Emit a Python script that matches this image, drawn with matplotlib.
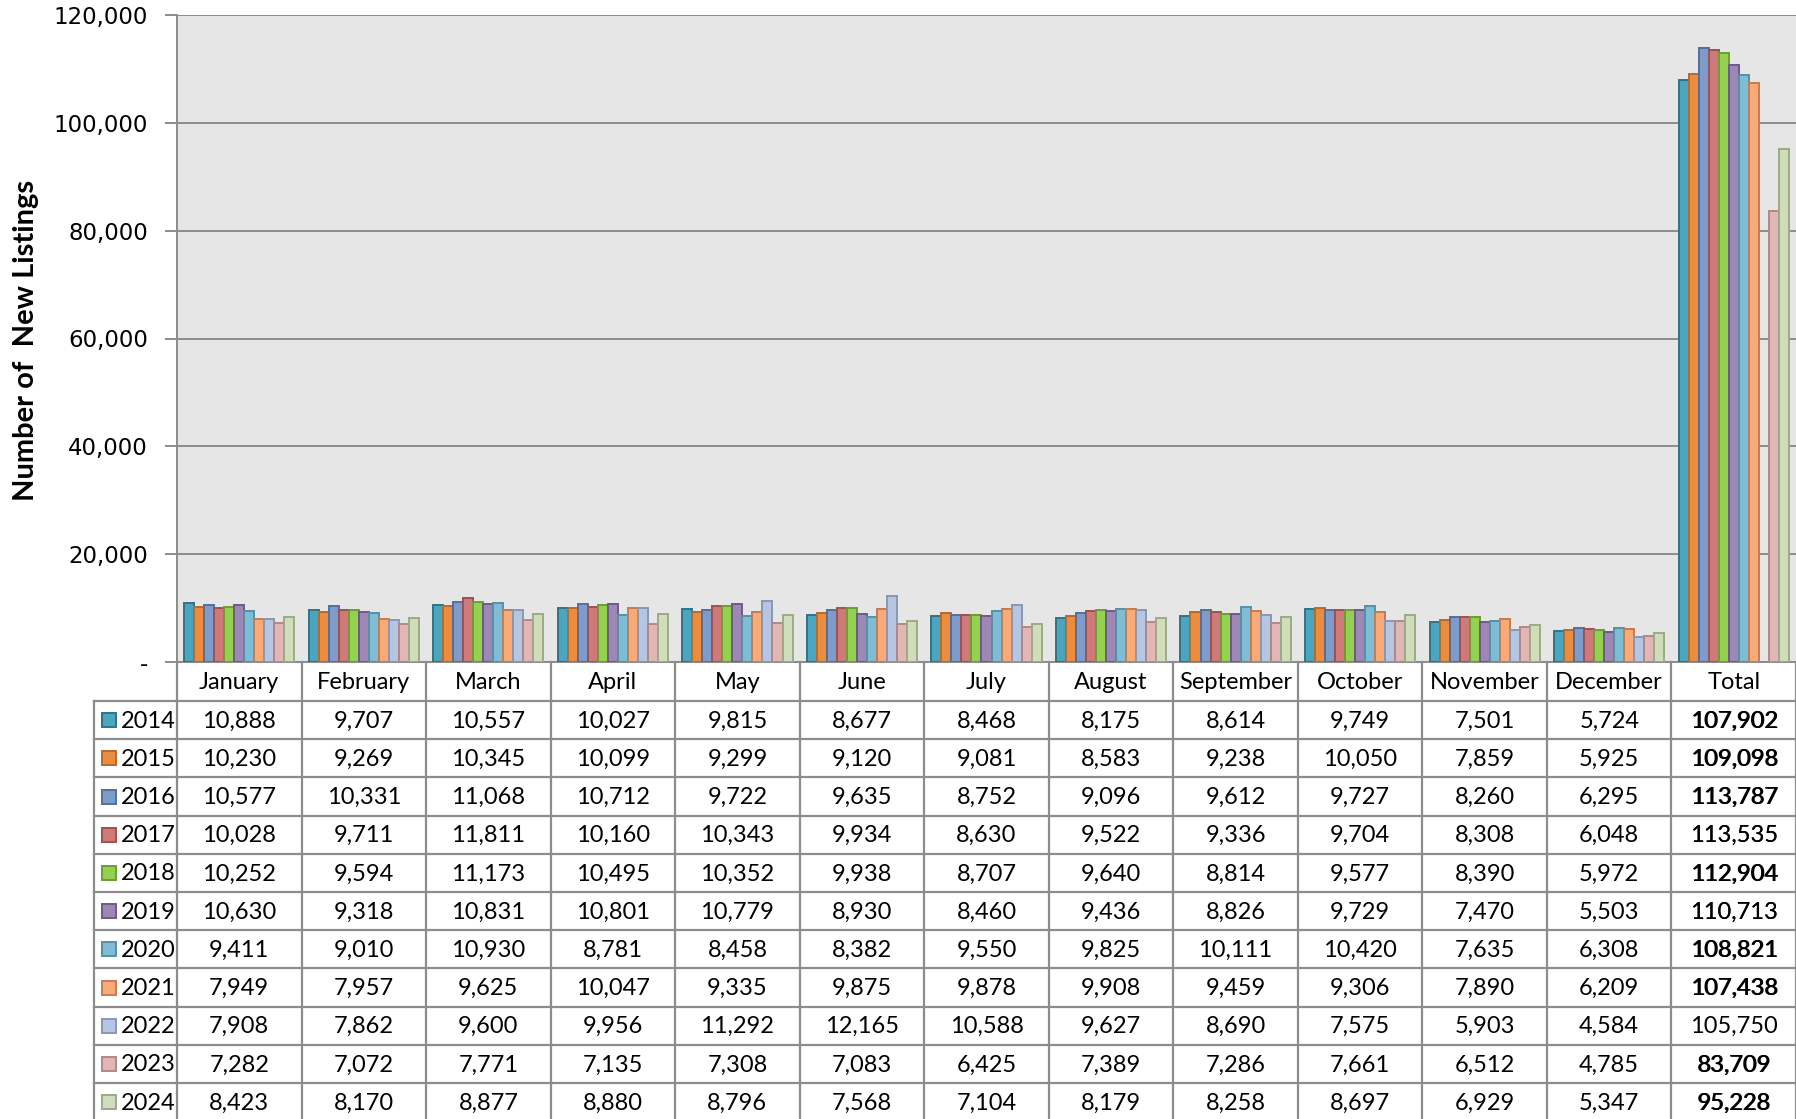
import numpy as np
import matplotlib
matplotlib.use("Agg")
import matplotlib.pyplot as plt
from matplotlib.patches import Rectangle
from matplotlib.lines import Line2D
from matplotlib.ticker import FuncFormatter

plt.rcParams["font.family"] = ["Lato", "DejaVu Sans"]

months = ["January", "February", "March", "April", "May", "June", "July",
          "August", "September", "October", "November", "December"]
categories = months + ["Total"]
years = ["2014", "2015", "2016", "2017", "2018", "2019", "2020", "2021",
         "2022", "2023", "2024"]

y2014 = [10888, 9707, 10557, 10027, 9815, 8677, 8468, 8175, 8614, 9749, 7501, 5724]
y2015 = [10230, 9269, 10345, 10099, 9299, 9120, 9081, 8583, 9238, 10050, 7859, 5925]
y2016 = [10577, 10331, 11068, 10712, 9722, 9635, 8752, 9096, 9612, 9727, 8260, 6295]
y2017 = [10028, 9711, 11811, 10160, 10343, 9934, 8630, 9522, 9336, 9704, 8308, 6048]
y2018 = [10252, 9594, 11173, 10495, 10352, 9938, 8707, 9640, 8814, 9577, 8390, 5972]
y2019 = [10630, 9318, 10831, 10801, 10779, 8930, 8460, 9436, 8826, 9729, 7470, 5503]
y2020 = [9411, 9010, 10930, 8781, 8458, 8382, 9550, 9825, 10111, 10420, 7635, 6308]
y2021 = [7949, 7957, 9625, 10047, 9335, 9875, 9878, 9908, 9459, 9306, 7890, 6209]
y2022 = [7908, 7862, 9600, 9956, 11292, 12165, 10588, 9627, 8690, 7575, 5903, 4584]
y2023 = [7282, 7072, 7771, 7135, 7308, 7083, 6425, 7389, 7286, 7661, 6512, 4785]
y2024 = [8423, 8170, 8877, 8880, 8796, 7568, 7104, 8179, 8258, 8697, 6929, 5347]
monthly = [y2014, y2015, y2016, y2017, y2018, y2019, y2020, y2021, y2022, y2023, y2024]

totals = [107902, 109098, 113787, 113535, 112904, 110713, 108821, 107438,
          105750, 83709, 95228]
# the 2022 total has no bar in the chart, only in the table
total_bar_shown = [True] * 8 + [False] + [True] * 2

fills = ["#4BA5BE", "#EA8D40", "#7F9BCA", "#CE7A78", "#94D151", "#9C87B5",
         "#7EBDD3", "#F9AA79", "#B6C5E1", "#E3B6B6", "#D0DDBA"]
edges = ["#2E7489", "#B8692B", "#556E9A", "#A0504E", "#6E9C35", "#6D5A8A",
         "#5790A6", "#C27D52", "#8997B2", "#B08888", "#9CAA86"]

W, H = 1796, 1119
fig = plt.figure(figsize=(W / 100, H / 100), dpi=100)

ax_left, ax_right, ax_top, ax_bot = 177, 1796, 15, 662
ax = fig.add_axes([ax_left / W, 1 - ax_bot / H, (ax_right - ax_left) / W,
                   (ax_bot - ax_top) / H])
ax.set_facecolor("#E6E6E6")

n = len(years)
group = 0.885
bw = group / n
x = np.arange(len(categories))
for i in range(n):
    vals = list(monthly[i]) + [totals[i] if total_bar_shown[i] else np.nan]
    offs = -group / 2 + bw * (i + 0.5)
    ax.bar(x + offs, vals, width=bw, color=fills[i], edgecolor=edges[i],
           linewidth=1.4, zorder=3)

ax.set_xlim(-0.5, len(categories) - 0.5)
ax.set_ylim(0, 120000)
ax.set_yticks(np.arange(0, 120001, 20000))
ax.yaxis.set_major_formatter(FuncFormatter(lambda v, p: "-" if v == 0 else f"{v:,.0f}"))
ax.grid(axis="y", color="#8C8C8C", linewidth=1.4, zorder=1)
ax.set_xticks([])
ax.tick_params(axis="y", length=9, width=1.4, color="#8C8C8C", pad=12)
for lab in ax.get_yticklabels():
    lab.set_family("DejaVu Sans")
    lab.set_fontsize(16.5)
for s in ["top", "right"]:
    ax.spines[s].set_visible(False)
ax.spines["left"].set_color("#8C8C8C")
ax.spines["left"].set_linewidth(1.4)
ax.spines["bottom"].set_color("#8C8C8C")
ax.spines["bottom"].set_linewidth(1.4)
fig.text(26 / W, 1 - 340 / H, "Number of  New Listings", rotation=90,
         ha="center", va="center", fontsize=21, fontweight="bold")

# data table under the plot, laid out in pixel coordinates
tb = fig.add_axes([0, 0, 1, 1], facecolor="none")
tb.set_xlim(0, W)
tb.set_ylim(H, 0)
tb.axis("off")

col_w = (ax_right - ax_left) / len(categories)
head_top, head_bot = ax_bot, 701
row_h = 38.2
leg_left = 94
grid_c = "#8C8C8C"
lw = 1.6
fs = 17

table_bot = head_bot + row_h * n
# vertical lines between columns
for j in range(len(categories) + 1):
    xx = ax_left + col_w * j
    tb.add_line(Line2D([xx, xx], [head_top, table_bot], color=grid_c, lw=lw))
tb.add_line(Line2D([leg_left, leg_left], [head_bot, table_bot], color=grid_c, lw=lw))
# horizontal lines
for r in range(n + 1):
    yy = head_bot + row_h * r
    tb.add_line(Line2D([leg_left, ax_right], [yy, yy], color=grid_c, lw=lw))

for j, name in enumerate(categories):
    tb.text(ax_left + col_w * (j + 0.5), (head_top + head_bot) / 2 + 1, name,
            ha="center", va="center", fontsize=fs)

for i in range(n):
    yc = head_bot + row_h * (i + 0.5) + 1
    tb.add_patch(Rectangle((102, yc - 8), 14, 14, facecolor=fills[i],
                           edgecolor=edges[i], lw=1.4))
    tb.text(121, yc, years[i], ha="left", va="center", fontsize=fs)
    for j, v in enumerate(monthly[i]):
        tb.text(ax_left + col_w * (j + 0.5), yc, f"{v:,}", ha="center",
                va="center", fontsize=fs)
    xt = ax_left + col_w * (len(categories) - 0.5)
    tb.text(xt, yc, f"{totals[i]:,}", ha="center", va="center", fontsize=fs)
    if total_bar_shown[i]:
        # overprinted total labels
        tb.text(xt + 0.7, yc, f"{totals[i]:,}", ha="center", va="center",
                fontsize=fs)

fig.savefig("out.png", dpi=100)
